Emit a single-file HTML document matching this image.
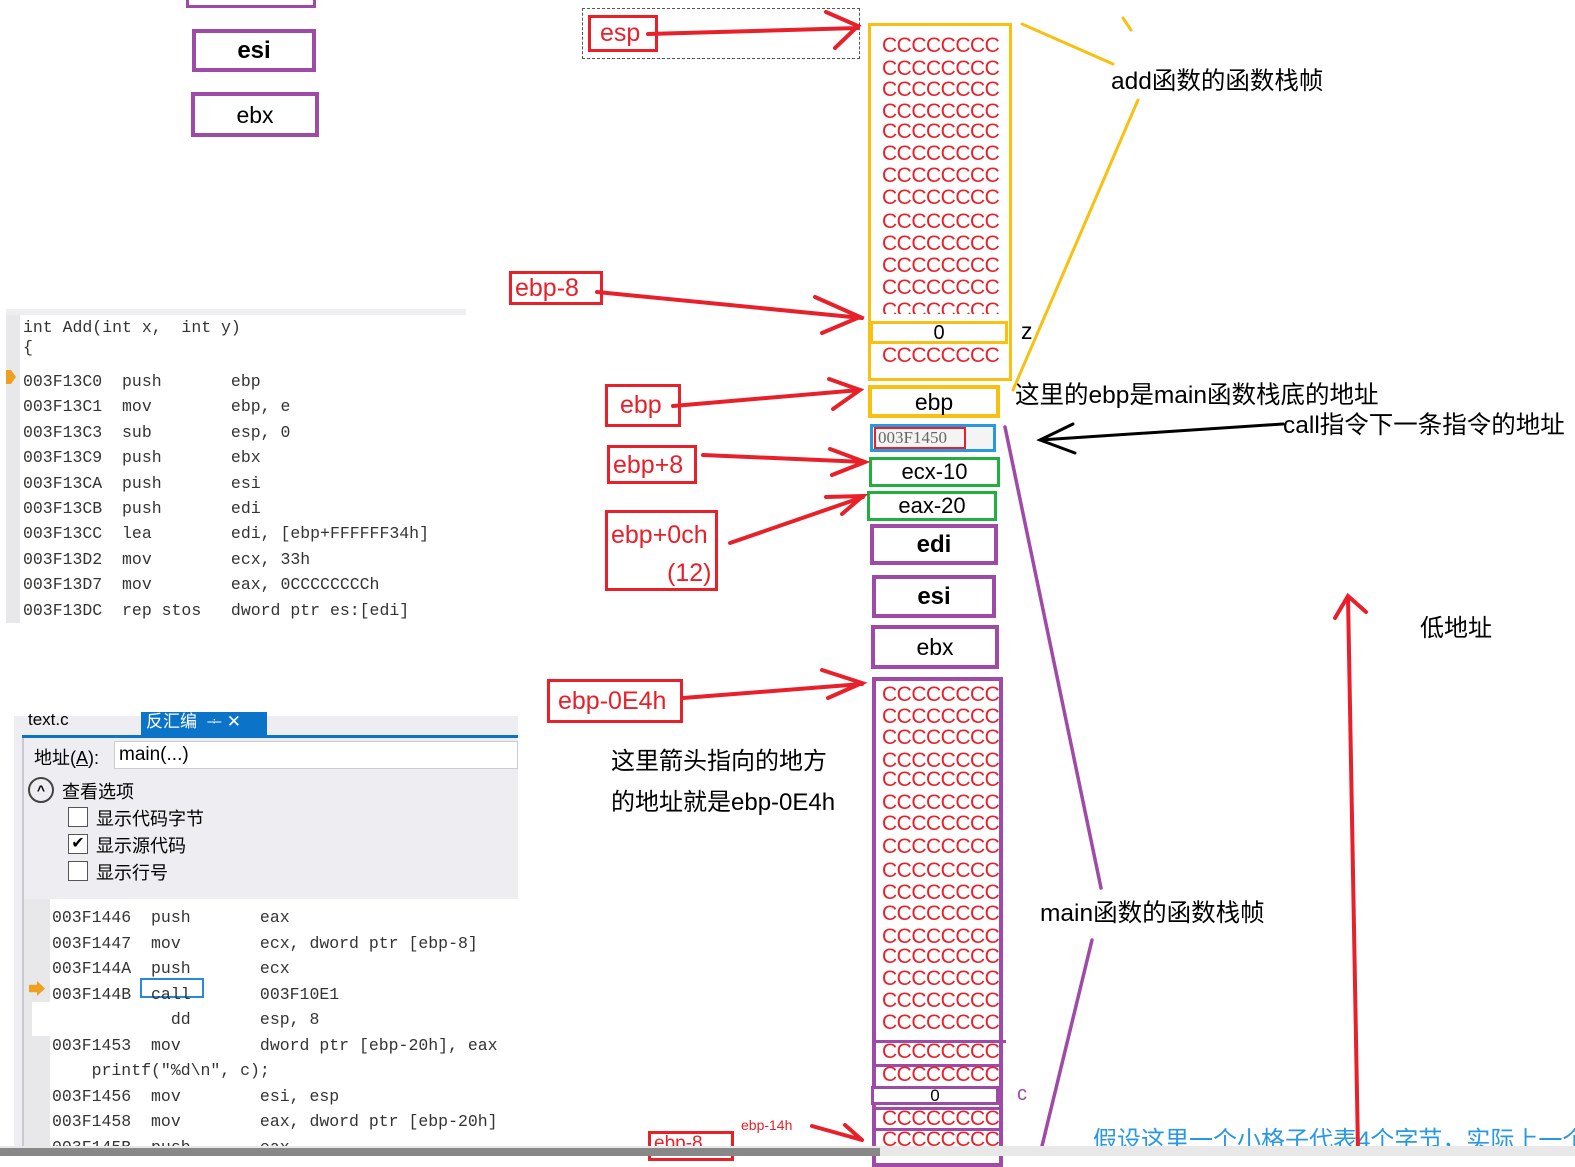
<!DOCTYPE html>
<html><head><meta charset="utf-8">
<style>
body{margin:0;width:1575px;height:1156px;background:#fff;position:relative;overflow:hidden;font-family:"Liberation Sans","Noto Sans CJK SC",sans-serif}
.a{position:absolute;box-sizing:border-box}
.c{position:absolute;color:#e8202a;font-size:21px;line-height:22px;letter-spacing:-0.5px;white-space:nowrap}
.code{position:absolute;font-family:"Liberation Mono","Noto Sans CJK SC",monospace;font-size:16.5px;color:#333;white-space:pre;line-height:16px}
.t{position:absolute;white-space:nowrap}
.rb{position:absolute;border:3px solid #e8202a;color:#e8202a;font-size:25px;box-sizing:border-box;line-height:1}
</style></head><body>

<div class="a" style="left:186px;top:-6px;width:130px;height:14px;border:3px solid #a04aa8"></div>
<div class="a" style="left:192px;top:29px;width:124px;height:43px;border:4px solid #a04aa8;text-align:center;font-size:24px;font-weight:bold;line-height:36px">esi</div>
<div class="a" style="left:191px;top:92px;width:128px;height:45px;border:4px solid #a04aa8;text-align:center;font-size:23px;line-height:38px">ebx</div>

<div class="a" style="left:6px;top:309px;width:460px;height:6px;background:#eeeef0"></div>
<div class="a" style="left:6px;top:315px;width:14px;height:308px;background:#e8e8ea"></div>
<div class="a" style="left:6px;top:370px;width:10px;height:14px;background:#f0a020;clip-path:polygon(0 0,50% 0,100% 50%,50% 100%,0 100%)"></div>
<div class="code" style="left:23px;top:318px;line-height:20px">int Add(int x,  int y)
{</div>
<div class="code" style="left:23px;top:369px;line-height:25.4px">003F13C0  push       ebp
003F13C1  mov        ebp, e
003F13C3  sub        esp, 0
003F13C9  push       ebx
003F13CA  push       esi
003F13CB  push       edi
003F13CC  lea        edi, [ebp+FFFFFF34h]
003F13D2  mov        ecx, 33h
003F13D7  mov        eax, 0CCCCCCCCh
003F13DC  rep stos   dword ptr es:[edi]</div>

<div class="a" style="left:14px;top:716px;width:504px;height:440px;background:#eeeef2"></div>
<div class="t" style="left:28px;top:710px;font-size:17px">text.c</div>
<div class="a" style="left:141px;top:712px;width:126px;height:24px;background:#0b74c8;color:#fff;font-size:17px;padding-left:5px;line-height:20px">反汇编 &nbsp;ᆠ ✕</div>
<div class="a" style="left:22px;top:735px;width:496px;height:3px;background:#0b74c8"></div>
<div class="a" style="left:22px;top:738px;width:2px;height:418px;background:#c8c8d0"></div>
<div class="t" style="left:34px;top:744px;font-size:18px">地址(<u>A</u>):</div>
<div class="a" style="left:114px;top:741px;width:404px;height:28px;background:#fff;border:1px solid #ccc;font-size:19px;padding-left:4px;line-height:26px">main(...)</div>
<div class="a" style="left:28px;top:777px;width:26px;height:26px;border:2px solid #444;border-radius:50%;text-align:center;font-size:14px;line-height:22px;font-weight:bold">^</div>
<div class="t" style="left:62px;top:778px;font-size:18px">查看选项</div>
<div class="a" style="left:68px;top:807px;width:20px;height:20px;border:1.5px solid #555;background:#fff"></div>
<div class="a" style="left:68px;top:834px;width:20px;height:20px;border:1.5px solid #555;background:#fff;font-size:16px;line-height:17px;text-align:center">✔</div>
<div class="a" style="left:68px;top:861px;width:20px;height:20px;border:1.5px solid #555;background:#fff"></div>
<div class="t" style="left:96px;top:805px;font-size:18px">显示代码字节</div>
<div class="t" style="left:96px;top:832px;font-size:18px">显示源代码</div>
<div class="t" style="left:96px;top:859px;font-size:18px">显示行号</div>
<div class="a" style="left:24px;top:899px;width:494px;height:247px;background:#fff"></div>
<div class="a" style="left:24px;top:899px;width:26px;height:247px;background:#e8e8ea"></div>
<div class="a" style="left:32px;top:1002px;width:18px;height:34px;background:#fff"></div>
<div class="a" style="left:29px;top:981px;width:16px;height:15px;background:#f0a020;clip-path:polygon(0 25%,50% 25%,50% 0,100% 50%,50% 100%,50% 75%,0 75%)"></div>
<div class="a" style="left:140px;top:978px;width:64px;height:20px;border:2px solid #2a88d8"></div>
<div class="code" style="left:52px;top:905px;line-height:25.5px">003F1446  push       eax
003F1447  mov        ecx, dword ptr [ebp-8]
003F144A  push       ecx
003F144B  call       003F10E1
            dd       esp, 8
003F1453  mov        dword ptr [ebp-20h], eax
    printf("%d\n", c);
003F1456  mov        esi, esp
003F1458  mov        eax, dword ptr [ebp-20h]
003F145B  push       eax</div>

<div class="a" style="left:868px;top:23px;width:144px;height:358px;border:3px solid #f8c010"></div>
<div class="c" style="left:882px;top:35px">CCCCCCCC</div>
<div class="c" style="left:882px;top:58px">CCCCCCCC</div>
<div class="c" style="left:882px;top:79px">CCCCCCCC</div>
<div class="c" style="left:882px;top:101px">CCCCCCCC</div>
<div class="c" style="left:882px;top:121px">CCCCCCCC</div>
<div class="c" style="left:882px;top:143px">CCCCCCCC</div>
<div class="c" style="left:882px;top:165px">CCCCCCCC</div>
<div class="c" style="left:882px;top:187px">CCCCCCCC</div>
<div class="c" style="left:882px;top:211px">CCCCCCCC</div>
<div class="c" style="left:882px;top:233px">CCCCCCCC</div>
<div class="c" style="left:882px;top:255px">CCCCCCCC</div>
<div class="c" style="left:882px;top:277px">CCCCCCCC</div>
<div class="c" style="left:882px;top:300px;height:14px;overflow:hidden">CCCCCCCC</div>
<div class="c" style="left:882px;top:345px">CCCCCCCC</div>
<div class="a" style="left:870px;top:321px;width:138px;height:23px;border:3px solid #f8c010;background:#fff;text-align:center;font-size:20px;line-height:18px">0</div>
<div class="a" style="left:868px;top:385px;width:132px;height:33px;border:4px solid #f8c010;text-align:center;font-size:23px;line-height:26px">ebp</div>
<div class="a" style="left:870px;top:424px;width:126px;height:28px;border:3px solid #2a98e0;background:#f4f4f4"></div>
<div class="a" style="left:874px;top:427px;width:92px;height:22px;border:2px solid #e8202a;font-family:'Liberation Serif',serif;font-size:17px;color:#666;line-height:18px;padding-left:2px">003F1450</div>
<div class="a" style="left:869px;top:457px;width:131px;height:30px;border:3px solid #20b040;text-align:center;font-size:22px;line-height:24px">ecx-10</div>
<div class="a" style="left:867px;top:491px;width:130px;height:30px;border:3px solid #20b040;text-align:center;font-size:22px;line-height:24px">eax-20</div>
<div class="a" style="left:870px;top:524px;width:128px;height:41px;border:4px solid #a04aa8;text-align:center;font-size:24px;font-weight:bold;line-height:33px">edi</div>
<div class="a" style="left:872px;top:575px;width:124px;height:43px;border:4px solid #a04aa8;text-align:center;font-size:24px;font-weight:bold;line-height:35px">esi</div>
<div class="a" style="left:871px;top:625px;width:128px;height:44px;border:4px solid #a04aa8;text-align:center;font-size:23px;line-height:36px">ebx</div>

<div class="a" style="left:872px;top:677px;width:131px;height:490px;border:4px solid #a04aa8"></div>
<div class="c" style="left:882px;top:684px">CCCCCCCC</div>
<div class="c" style="left:882px;top:706px">CCCCCCCC</div>
<div class="c" style="left:882px;top:727px">CCCCCCCC</div>
<div class="c" style="left:882px;top:750px">CCCCCCCC</div>
<div class="c" style="left:882px;top:769px">CCCCCCCC</div>
<div class="c" style="left:882px;top:792px">CCCCCCCC</div>
<div class="c" style="left:882px;top:813px">CCCCCCCC</div>
<div class="c" style="left:882px;top:836px">CCCCCCCC</div>
<div class="c" style="left:882px;top:860px">CCCCCCCC</div>
<div class="c" style="left:882px;top:882px">CCCCCCCC</div>
<div class="c" style="left:882px;top:903px">CCCCCCCC</div>
<div class="c" style="left:882px;top:926px">CCCCCCCC</div>
<div class="c" style="left:882px;top:946px">CCCCCCCC</div>
<div class="c" style="left:882px;top:968px">CCCCCCCC</div>
<div class="c" style="left:882px;top:990px">CCCCCCCC</div>
<div class="c" style="left:882px;top:1012px">CCCCCCCC</div>
<div class="a" style="left:872px;top:1040px;width:134px;height:3px;background:#a04aa8"></div>
<div class="c" style="left:882px;top:1041px">CCCCCCCC</div>
<div class="a" style="left:872px;top:1064px;width:131px;height:3px;background:#a04aa8"></div>
<div class="c" style="left:882px;top:1064px">CCCCCCCC</div>
<div class="a" style="left:871px;top:1086px;width:128px;height:19px;border:3px solid #a04aa8;background:#fff;text-align:center;font-size:17px;line-height:13px">0</div>
<div class="a" style="left:872px;top:1107px;width:131px;height:3px;background:#a04aa8"></div>
<div class="c" style="left:882px;top:1108px">CCCCCCCC</div>
<div class="a" style="left:872px;top:1128px;width:131px;height:3px;background:#a04aa8"></div>
<div class="c" style="left:882px;top:1129px">CCCCCCCC</div>

<div class="a" style="left:582px;top:8px;width:278px;height:51px;border:1px dashed #555"></div>
<div class="rb" style="left:588px;top:15px;width:70px;height:37px;padding:3px 0 0 9px">esp</div>
<div class="rb" style="left:509px;top:271px;width:94px;height:34px;padding:2px 0 0 3px">ebp-8</div>
<div class="rb" style="left:605px;top:384px;width:76px;height:43px;padding:6px 0 0 12px">ebp</div>
<div class="rb" style="left:607px;top:445px;width:90px;height:39px;padding:5px 0 0 3px">ebp+8</div>
<div class="rb" style="left:605px;top:510px;width:113px;height:81px;padding:3px 0 0 3px;line-height:38px">ebp+0ch<br><span style="padding-left:56px">(12)</span></div>
<div class="rb" style="left:547px;top:679px;width:136px;height:44px;padding:7px 0 0 8px">ebp-0E4h</div>
<div class="rb" style="left:648px;top:1131px;width:86px;height:30px;padding:0 0 0 3px;font-size:19px">ebp-8</div>
<div class="t" style="left:741px;top:1117px;font-size:14px;color:#e8202a">ebp-14h</div>

<div class="t" style="left:1111px;top:62px;font-size:24.5px">add函数的函数栈帧</div>
<div class="t" style="left:1021px;top:318px;font-size:23px">z</div>
<div class="t" style="left:1015px;top:376px;font-size:24.5px">这里的ebp是main函数栈底的地址</div>
<div class="t" style="left:1283px;top:406px;font-size:24.5px">call指令下一条指令的地址</div>
<div class="t" style="left:1420px;top:608px;font-size:24px">低地址</div>
<div class="t" style="left:611px;top:741px;font-size:24px">这里箭头指向的地方</div>
<div class="t" style="left:611px;top:782px;font-size:24px">的地址就是ebp-0E4h</div>
<div class="t" style="left:1040px;top:894px;font-size:24.5px">main函数的函数栈帧</div>
<div class="t" style="left:1017px;top:1083px;font-size:20px;color:#a04aa8">c</div>
<div class="t" style="left:1093px;top:1120px;font-size:24px;color:#2a98e0;height:26px;overflow:hidden">假设这里一个小格子代表4个字节，实际上一个</div>

<svg class="a" style="left:0;top:0" width="1575" height="1156">
<g fill="none" stroke-linecap="round">
<g stroke="#f8c010" stroke-width="3">
<line x1="1022" y1="24" x2="1113" y2="64"/>
<line x1="1123" y1="18" x2="1131" y2="30"/>
<line x1="1138" y1="100" x2="1013" y2="390"/>
</g>
<g stroke="#e8202a" stroke-width="4">
<path d="M648 34 L858 28 M826 12 L858 26 L835 48"/>
<path d="M597 292 L862 318 M815 297 L860 317 L822 333"/>
<path d="M673 406 L860 390 M829 379 L860 390 L833 409"/>
<path d="M703 455 L865 462 M830 449 L865 462 L832 475"/>
<path d="M730 543 L863 497 M826 497 L863 496 L842 514"/>
<path d="M683 698 L862 684 M822 670 L862 683 L828 698"/>
<path d="M1358 1150 L1348 596 M1335 618 L1348 596 L1366 612"/>
<path d="M812 1126 L862 1140 M845 1125 L862 1140"/>
</g>
<g stroke="#000" stroke-width="3">
<path d="M1283 424 L1040 440 M1073 424 L1040 440 L1075 453"/>
</g>
<g stroke="#a04aa8" stroke-width="3.5">
<line x1="1005" y1="427" x2="1101" y2="888"/>
<line x1="1092" y1="940" x2="1042" y2="1146"/>
</g>
</g>
</svg>
<div class="a" style="left:0;top:1146px;width:1575px;height:10px;background:#e8e8e8;z-index:5"></div>
<div class="a" style="left:0;top:1148px;width:880px;height:8px;background:#888;z-index:6"></div>
</body></html>
